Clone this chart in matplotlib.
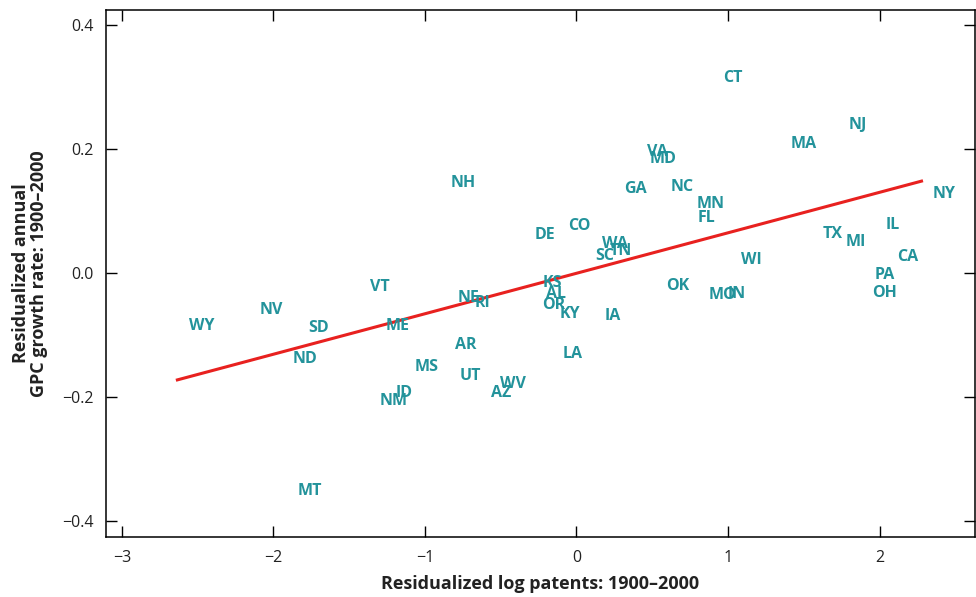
import matplotlib
matplotlib.use("Agg")
import matplotlib.pyplot as plt

states = ["WY","NV","SD","ND","MT","VT","ME","NM","ID","MS","NH","NE","RI","AR","UT","WV","AZ",
          "DE","CO","KS","AL","OR","KY","LA","IA","SC","WA","TN","GA","VA","MD","NC","MN","FL",
          "OK","MO","IN","WI","CT","MA","NJ","TX","MI","IL","CA","PA","OH","NY"]
patents = [-2.475,-2.013,-1.703,-1.789,-1.762,-1.300,-1.182,-1.208,-1.135,-0.990,-0.746,-0.713,-0.620,
           -0.733,-0.700,-0.422,-0.495,-0.211,0.020,-0.158,-0.132,-0.152,-0.040,-0.026,0.238,0.185,
           0.257,0.290,0.389,0.535,0.574,0.700,0.884,0.858,0.667,0.964,1.056,1.155,1.030,1.498,
           1.855,1.690,1.842,2.086,2.185,2.033,2.033,2.429]
growth = [-0.082,-0.056,-0.085,-0.135,-0.348,-0.019,-0.082,-0.203,-0.190,-0.148,0.148,-0.037,-0.045,
          -0.113,-0.163,-0.176,-0.190,0.0645,0.079,-0.013,-0.031,-0.048,-0.063,-0.127,-0.066,0.031,
          0.050,0.039,0.139,0.198,0.187,0.142,0.115,0.092,-0.018,-0.032,-0.031,0.024,0.318,0.211,
          0.242,0.066,0.053,0.081,0.029,0.000,-0.029,0.131]
fit_x = [-2.634, 2.277]
fit_y = [-0.1726, 0.148]

xticks = [-3, -2, -1, 0, 1, 2]
yticks = [-0.4, -0.2, 0.0, 0.2, 0.4]

plt.rcParams['font.family'] = ['Open Sans', 'DejaVu Sans']
plt.rcParams['axes.unicode_minus'] = True

fig = plt.figure(figsize=(9.76, 5.97), dpi=100)
ax = fig.add_axes([106/976, 1 - 537/597, (975-106)/976, (537-10)/597])

teal = "#23939b"
for s, x, y in zip(states, patents, growth):
    ax.text(x, y, s, color=teal, fontsize=11.5, fontweight='bold', ha='center',
            va='center_baseline')

ax.plot(fit_x, fit_y, color="#e8211f", lw=2.2)

ax.set_xlim(-3.105, 2.63)
ax.set_ylim(-0.426, 0.424)
ax.set_xticks(xticks)
ax.set_xticklabels(["\u22123", "\u22122", "\u22121", "0", "1", "2"])
ax.set_yticks(yticks)
ax.set_yticklabels(["\u22120.4", "\u22120.2", "0.0", "0.2", "0.4"])
ax.tick_params(direction='in', length=8, width=1, top=True, right=True, labelsize=11.5,
               labelcolor="#222222", pad=9)
for sp in ax.spines.values():
    sp.set_linewidth(1.1)

ax.set_xlabel("Residualized log patents: 1900\u20132000", fontsize=13, fontweight='bold',
              color="#222222", labelpad=7)
ax.set_ylabel("Residualized annual\nGPC growth rate: 1900\u20132000", fontsize=13,
              fontweight='bold', color="#222222", labelpad=10, linespacing=1.0)

fig.savefig("out.png", dpi=100)
